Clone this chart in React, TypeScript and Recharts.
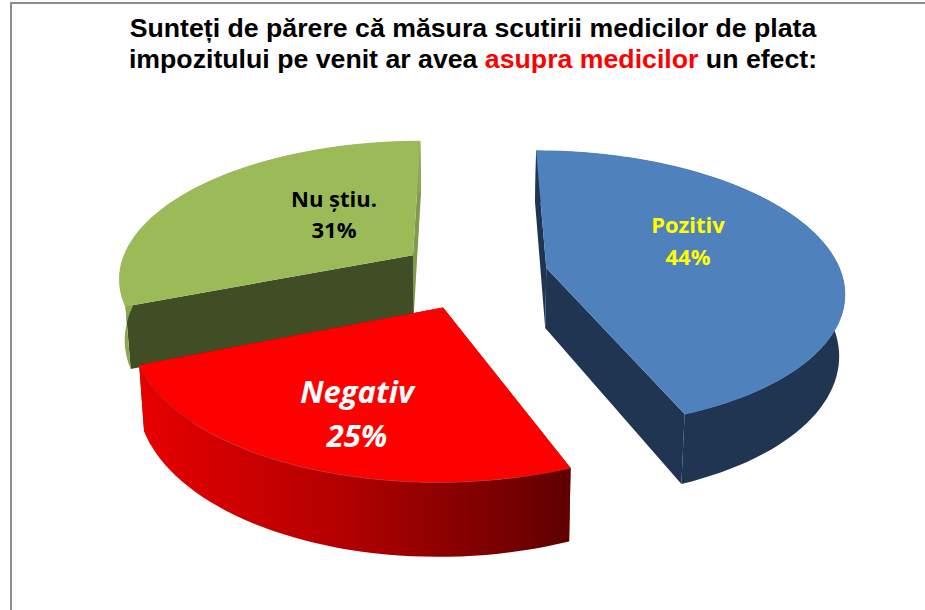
import { Pie, PieChart } from 'recharts'

const categories = ['Nu știu.', 'Pozitiv', 'Negativ']
const shares = [31, 44, 25]

const chartData = categories.map((name, i) => ({ name, value: shares[i] }))

// top face, side wall and cut wall colours for each slice ('url' fills come from <defs>)
const SKIN: Record<string, { top: string; outer: string; cut: string; back: string; edge: string }> = {
  'Nu știu.': { top: '#9bbb59', outer: '#8aa84f', cut: '#404d25', back: '#7f9a48', edge: '#9bbb59' },
  Pozitiv: { top: '#4f81bd', outer: '#1f3552', cut: '#1f3552', back: '#1f3552', edge: '#4f81bd' },
  Negativ: { top: '#ff0000', outer: 'url(#redWall)', cut: '#8a0000', back: '#8a0000', edge: '#b03030' },
}

const LABELS: Record<string, { x: number; y: number; gap: number; size: number; color: string; italic?: boolean }> = {
  'Nu știu.': { x: 334, y: 207, gap: 31, size: 22, color: '#000000' },
  Pozitiv: { x: 688, y: 233, gap: 32, size: 22, color: '#ffff00' },
  Negativ: { x: 357, y: 403, gap: 44, size: 31, color: '#ffffff', italic: true },
}

// perspective camera fitted to the picture
const VANISH_X = 469
const VANISH_Y = -620
const PLANE_H = 888
const PERSPECTIVE = 0.152
const DEPTH = 60
const TAPER = 0.985
const EXPLODE = 0.253
const CENTER_V = -0.047

const RAD = Math.PI / 180

function project(u: number, v: number, low: boolean) {
  const s = 1 + PERSPECTIVE * v
  return {
    x: VANISH_X + ((low ? TAPER : 1) * u) / s,
    y: VANISH_Y + (PLANE_H + (low ? DEPTH : 0)) / s,
  }
}

const toPath = (pts: { x: number; y: number }[]) =>
  pts.map((p, i) => `${i ? 'L' : 'M'}${p.x.toFixed(1)} ${p.y.toFixed(1)}`).join(' ') + ' Z'

function Slice3D(props: any) {
  const { cx, outerRadius: R, startAngle, endAngle, name } = props
  const skin = SKIN[name]
  const mid = ((startAngle + endAngle) / 2) * RAD
  const apexU = cx - VANISH_X + EXPLODE * R * Math.cos(mid)
  const apexV = CENTER_V + EXPLODE * Math.sin(mid)

  const arc = (low: boolean) => {
    const pts = []
    const steps = Math.ceil(Math.abs(endAngle - startAngle) / 2)
    for (let i = 0; i <= steps; i++) {
      const a = (startAngle + ((endAngle - startAngle) * i) / steps) * RAD
      pts.push(project(apexU + R * Math.cos(a), apexV + Math.sin(a), low))
    }
    return pts
  }
  const topArc = arc(false)
  const lowArc = arc(true)
  const apex = project(apexU, apexV, false)
  const apexLow = project(apexU, apexV, true)
  const first = topArc[0]
  const last = topArc[topArc.length - 1]
  const firstLow = lowArc[0]
  const lastLow = lowArc[lowArc.length - 1]

  // whichever cut edge runs towards the back is the thin sliver
  const backIsStart = Math.sin(startAngle * RAD) > Math.sin(endAngle * RAD)
  const backWall = backIsStart ? [first, apex, apexLow, firstLow] : [last, apex, apexLow, lastLow]
  const frontWall = backIsStart ? [apex, last, lastLow, apexLow] : [apex, first, firstLow, apexLow]

  return (
    <g>
      <path d={toPath(backWall)} fill={skin.back} />
      <path d={toPath(frontWall)} fill={skin.cut} />
      <path d={toPath([...topArc, ...[...lowArc].reverse()])} fill={skin.outer} stroke="none" />
      <path d={toPath([apex, ...topArc])} fill={skin.top} />
      <path
        d={topArc.map((p, i) => `${i ? 'L' : 'M'}${p.x.toFixed(1)} ${p.y.toFixed(1)}`).join(' ')}
        fill="none"
        stroke={skin.edge}
        strokeWidth={0.8}
      />
    </g>
  )
}

function SliceLabel(props: any) {
  const { name, value } = props
  const l = LABELS[name]
  const style = {
    fontFamily: '"Open Sans", sans-serif',
    fontWeight: 700,
    fontSize: l.size,
    fontStyle: l.italic ? 'italic' : 'normal',
  }
  return (
    <text fill={l.color} textAnchor="middle" style={style}>
      <tspan x={l.x} y={l.y}>
        {name}
      </tspan>
      <tspan x={l.x} y={l.y + l.gap}>
        {value}%
      </tspan>
    </text>
  )
}

export default function App() {
  return (
    <div style={{ position: 'absolute', left: 0, top: 0, width: 925, height: 610, background: '#fff', overflow: 'hidden' }}>
      <div style={{ position: 'absolute', left: 10, top: 2, right: 0, bottom: 0, borderLeft: '2px solid #8c8c8c', borderTop: '2px solid #8c8c8c' }} />
      <div
        style={{
          position: 'absolute',
          left: 0,
          top: 13,
          width: 946,
          textAlign: 'center',
          fontFamily: '"Liberation Sans", Arial, sans-serif',
          fontWeight: 700,
          fontSize: 26.7,
          lineHeight: '31px',
          color: '#000',
        }}
      >
        <div>Sunteți de părere că măsura scutirii medicilor de plata</div>
        <div>
          impozitului pe venit ar avea <span style={{ color: '#ff0000' }}>asupra medicilor</span> un efect:
        </div>
      </div>
      <div style={{ position: 'absolute', left: 0, top: 0 }}>
        <PieChart width={925} height={610} margin={{ top: 0, right: 0, bottom: 0, left: 0 }}>
          <defs>
            <linearGradient id="redWall" gradientUnits="userSpaceOnUse" x1="137" y1="0" x2="566" y2="0">
              <stop offset="0%" stopColor="#e80000" />
              <stop offset="50%" stopColor="#b00000" />
              <stop offset="100%" stopColor="#600000" />
            </linearGradient>
          </defs>
          <Pie
            data={chartData}
            dataKey="value"
            nameKey="name"
            cx={473.5}
            cy={300}
            outerRadius={293}
            startAngle={201.6}
            endAngle={-158.4}
            paddingAngle={0}
            stroke="none"
            shape={Slice3D}
            inactiveShape={Slice3D}
            label={SliceLabel}
            labelLine={false}
            isAnimationActive={false}
          />
        </PieChart>
      </div>
    </div>
  )
}
